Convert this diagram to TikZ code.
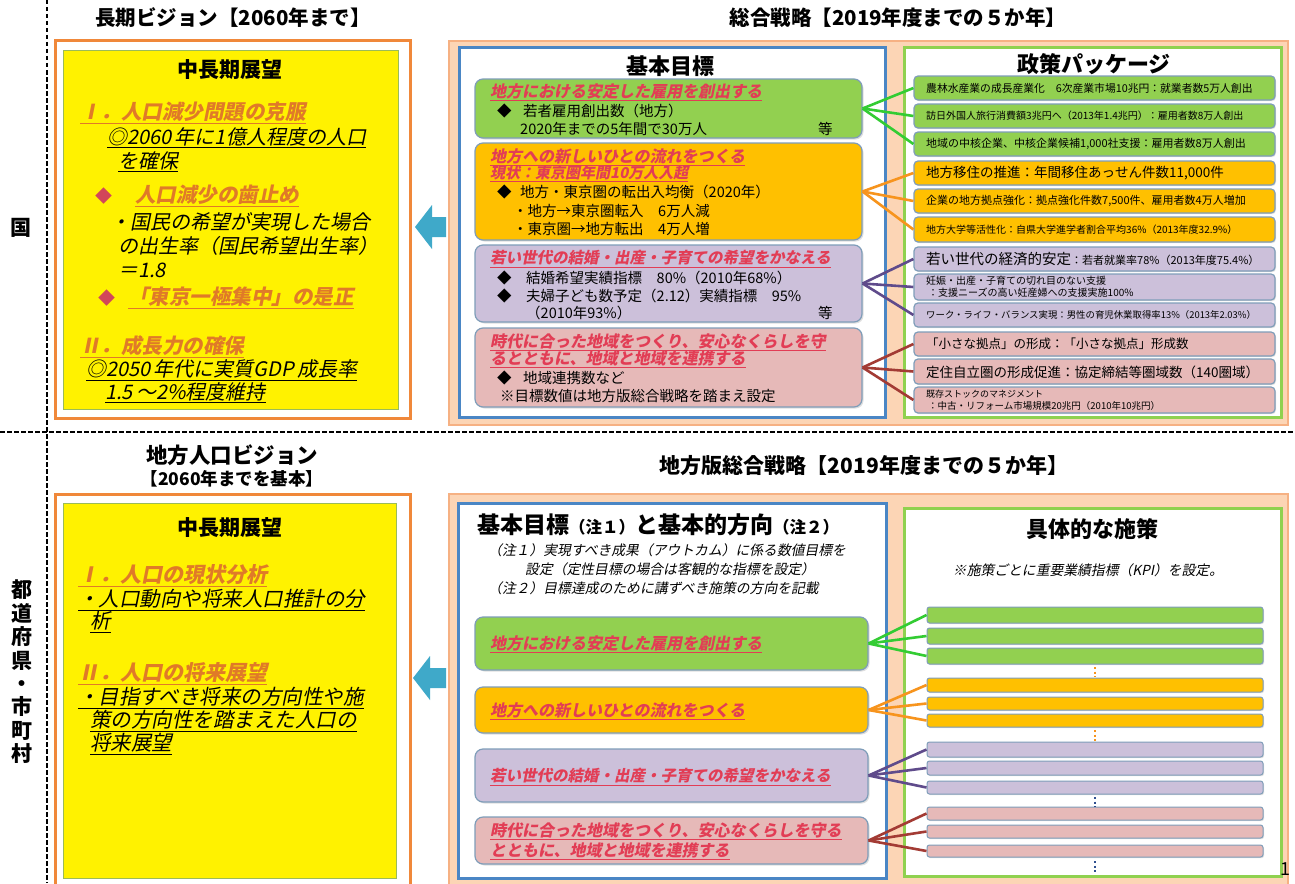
\documentclass[tikz,border=0pt]{standalone}
\usepackage{fontspec}
\setmainfont{Noto Sans CJK JP}
\newfontfamily\jpit{Noto Sans CJK JP}[FakeSlant=0.2]
\usetikzlibrary{fit,shadows}
\newcommand\setfs[1]{\fontsize{#1}{#1}\selectfont}
\definecolor{fillG}{HTML}{92D050}
\definecolor{fillO}{HTML}{FFC000}
\definecolor{fillP}{HTML}{CCC0DA}
\definecolor{fillR}{HTML}{E6B9B8}
\definecolor{lineG}{HTML}{33CC33}
\definecolor{lineO}{HTML}{F7941D}
\definecolor{lineP}{HTML}{5F4B8B}
\definecolor{lineR}{HTML}{A33B34}
\definecolor{boxEdge}{HTML}{7F9DB9}
\definecolor{peach}{HTML}{FCD5B5}
\definecolor{peachEdge}{HTML}{F6B183}
\definecolor{blueEdge}{HTML}{4A86C5}
\definecolor{greenEdge}{HTML}{8FD14F}
\definecolor{frameOrange}{HTML}{F0883A}
\definecolor{yelEdge}{HTML}{9BBB59}
\definecolor{arrowC}{HTML}{3FA9C9}
\definecolor{headRed}{HTML}{E23D55}
\definecolor{headOrange}{HTML}{E07A28}
\definecolor{diaRed}{HTML}{D2465A}
\definecolor{dotNavy}{HTML}{2F4F8F}
\tikzset{
  txt/.style={inner sep=0pt, anchor=west, text=black},
  ctr/.style={inner sep=0pt, anchor=center, text=black},
  ttl/.style={ctr, font=\bfseries\setfs{20.5}},
  headO/.style={txt, text=headOrange, font=\jpit\bfseries\setfs{20.5}},
  bodyI/.style={txt, font=\jpit\setfs{20}},
  bodyIb/.style={txt, font=\jpit\setfs{20.5}},
  headR/.style={txt, text=headRed, font=\jpit\bfseries\setfs{16}},
  gtxt/.style={txt, font=\setfs{14.5}},
  noteI/.style={txt, font=\jpit\setfs{13.8}},
  frameO/.style={draw=frameOrange, line width=3pt, fill=white, inner sep=0pt},
  yel/.style={fill=yellow, draw=yelEdge, line width=0.8pt, inner sep=0pt},
  peachbox/.style={fill=peach, draw=peachEdge, line width=2pt, inner sep=0pt},
  bluebox/.style={fill=white, draw=blueEdge, line width=3pt, inner sep=0pt},
  greenbox/.style={fill=white, draw=greenEdge, line width=3pt, inner sep=0pt},
  gbox/.style={draw=boxEdge, line width=1.2pt, rounded corners=8pt, inner sep=0pt,
    drop shadow={opacity=0.25, shadow xshift=1.5pt, shadow yshift=-1.5pt}},
  pbox/.style={draw=boxEdge, line width=1.2pt, rounded corners=4pt, inner sep=0pt,
    drop shadow={opacity=0.25, shadow xshift=1pt, shadow yshift=-1.2pt}},
  bar/.style={draw=boxEdge, line width=1pt, rounded corners=2.5pt, inner sep=0pt,
    drop shadow={opacity=0.25, shadow xshift=1pt, shadow yshift=-1.2pt}},
  conn/.style={line width=2.6pt},
  sep/.style={line width=1.8pt, dash pattern=on 4.5pt off 2.5pt},
  vdots/.style={line width=2pt, dash pattern=on 2pt off 2.5pt},
}
\begin{document}
\begin{tikzpicture}[x=1pt,y=-1pt]
\useasboundingbox (0,0) rectangle (1295,883);
\fill[white] (0,0) rectangle (1295,883);

% separators
\draw[sep] (47,0) -- (47,883);
\draw[sep] (0,432) -- (1295,432);
\node[ctr, font=\bfseries\setfs{21}] (kuni) at (21,228) {国};
\node[ctr, align=center, font=\bfseries\fontsize{21}{23.4}\selectfont] (pref) at (22,672) {都\\道\\府\\県\\・\\市\\町\\村};

% ================= TOP LEFT =================
\node[ttl] (tVis) at (233,18) {長期ビジョン【2060年まで】};
\node[frameO, fit={(55,41) (410,418)}] (lframe) {};
\node[yel, fit={(63,50) (398,409)}] (lyel) {};
\node[ctr, font=\bfseries\setfs{21}] (tChu1) at (230,70) {中長期展望};
\node[headO] (a1) at (80,113) {\underline{Ⅰ．人口減少問題の克服}};
\node[bodyI] (a2) at (107,138) {\underline{◎2060\,年に1億人程度の人口}};
\node[bodyI] (a3) at (118,162) {\underline{を確保}};
\node[txt, text=diaRed, font=\setfs{17}] (a4d) at (95,196) {◆};
\node[headO] (a4) at (135,196) {\underline{人口減少の歯止め}};
\node[bodyI] (a5) at (110,222) {・国民の希望が実現した場合};
\node[bodyI] (a6) at (118,246) {の出生率（国民希望出生率）};
\node[bodyI] (a7) at (118,270) {＝1.8};
\node[txt, text=diaRed, font=\setfs{17}] (a8d) at (98,298) {◆};
\node[headO] (a8) at (128,298) {\underline{「東京一極集中」の是正}};
\node[headO] (a9) at (80,347) {\underline{Ⅱ．成長力の確保}};
\node[bodyI] (a10) at (86,370) {\underline{◎2050\,年代に実質GDP\,成長率}};
\node[bodyI] (a11) at (105,393) {\underline{1.5\,～2\%程度維持}};

\fill[arrowC] (415,227) -- (432,205) -- (432,217) -- (446,217) -- (446,237) -- (432,237) -- (432,249) -- cycle;

% ================= TOP MIDDLE =================
\node[ttl] (tSogo) at (898,18) {総合戦略【2019年度までの５か年】};
\node[peachbox, fit={(449,41) (1288,425)}] (peachTop) {};
\node[bluebox, fit={(459,48) (885,417)}] (blueTop) {};
\node[ctr, font=\bfseries\setfs{22}] (tKihon) at (670,66) {基本目標};

\node[gbox, fill=fillG, fit={(475,79) (862,138)}] (tg) {};
\node[headR] (tg1) at (490,92) {\underline{地方における安定した雇用を創出する}};
\node[gtxt] (tg2d) at (497,111) {◆};
\node[gtxt] (tg2) at (523,111) {若者雇用創出数（地方）};
\node[gtxt] (tg3) at (520,129) {2020年までの5年間で30万人};
\node[gtxt] (tg4) at (818,129) {等};

\node[gbox, fill=fillO, fit={(475,143) (862,240)}] (to) {};
\node[headR] (to1) at (490,157) {\underline{地方への新しいひとの流れをつくる}};
\node[headR, font=\jpit\bfseries\setfs{15}] (to2) at (490,174) {\underline{現状：東京圏年間10万人入超}};
\node[gtxt] (to3d) at (497,192) {◆};
\node[gtxt] (to3) at (520,192) {地方・東京圏の転出入均衡（2020年）};
\node[gtxt] (to4) at (513,211) {・地方→東京圏転入　6万人減};
\node[gtxt] (to5) at (513,229) {・東京圏→地方転出　4万人増};

\node[gbox, fill=fillP, fit={(475,245) (862,322)}] (tp) {};
\node[headR, font=\jpit\bfseries\setfs{15.5}] (tp1) at (490,259) {\underline{若い世代の結婚・出産・子育ての希望をかなえる}};
\node[gtxt] (tp2d) at (497,278) {◆};
\node[gtxt] (tp2) at (526,278) {結婚希望実績指標　80\%（2010年68\%）};
\node[gtxt] (tp3d) at (497,296) {◆};
\node[gtxt] (tp3) at (526,296) {夫婦子ども数予定（2.12）実績指標　95\%};
\node[gtxt] (tp4) at (526,313) {（2010年93\%）};
\node[gtxt] (tp5) at (818,313) {等};

\node[gbox, fill=fillR, fit={(475,328) (862,407)}] (tr) {};
\node[headR] (tr1) at (490,342) {\underline{時代に合った地域をつくり、安心なくらしを守}};
\node[headR] (tr2) at (490,359) {\underline{るとともに、地域と地域を連携する}};
\node[gtxt] (tr3d) at (497,378) {◆};
\node[gtxt] (tr3) at (523,378) {地域連携数など};
\node[gtxt] (tr4) at (500,396) {※目標数値は地方版総合戦略を踏まえ設定};

% ================= TOP RIGHT =================
\node[greenbox, fit={(904,48) (1281,417)}] (greenTop) {};
\node[ctr, font=\bfseries\setfs{22}] (tSeisaku) at (1094,64) {政策パッケージ};

\node[pbox, fill=fillG, fit={(914,76) (1275,100)}] (pg1) {};
\node[pbox, fill=fillG, fit={(914,104) (1275,128)}] (pg2) {};
\node[pbox, fill=fillG, fit={(914,132) (1275,156)}] (pg3) {};
\node[pbox, fill=fillO, fit={(914,161) (1275,185)}] (po1) {};
\node[pbox, fill=fillO, fit={(914,189) (1275,213)}] (po2) {};
\node[pbox, fill=fillO, fit={(914,217) (1275,242)}] (po3) {};
\node[pbox, fill=fillP, fit={(914,247) (1275,271)}] (pp1) {};
\node[pbox, fill=fillP, fit={(914,274) (1275,300)}] (pp2) {};
\node[pbox, fill=fillP, fit={(914,303) (1275,327)}] (pp3) {};
\node[pbox, fill=fillR, fit={(914,332) (1275,356)}] (pr1) {};
\node[pbox, fill=fillR, fit={(914,359) (1275,384)}] (pr2) {};
\node[pbox, fill=fillR, fit={(914,387) (1275,413)}] (pr3) {};

\node[txt, font=\setfs{10.8}] (pg1t) at (926,88) {農林水産業の成長産業化　6次産業市場10兆円：就業者数5万人創出};
\node[txt, font=\setfs{10}] (pg2t) at (926,116) {訪日外国人旅行消費額3兆円へ（2013年1.4兆円）：雇用者数8万人創出};
\node[txt, font=\setfs{11}] (pg3t) at (926,144) {地域の中核企業、中核企業候補1,000社支援：雇用者数8万人創出};
\node[txt, font=\setfs{13.5}] (po1t) at (926,173) {地方移住の推進：年間移住あっせん件数11,000件};
\node[txt, font=\setfs{11}] (po2t) at (926,201) {企業の地方拠点強化：拠点強化件数7,500件、雇用者数4万人増加};
\node[txt, font=\setfs{10}] (po3t) at (926,230) {地方大学等活性化：自県大学進学者割合平均36\%（2013年度32.9\%）};
\node[txt, font=\setfs{14.5}] (pp1t) at (926,259) {若い世代の経済的安定{\setfs{11}：若者就業率78\%（2013年度75.4\%）}};
\node[txt, font=\setfs{10}] (pp2t) at (926,281) {妊娠・出産・子育ての切れ目のない支援};
\node[txt, font=\setfs{10}] (pp2u) at (928,293) {：支援ニーズの高い妊産婦への支援実施100\%};
\node[txt, font=\setfs{9.4}] (pp3t) at (926,315) {ワーク・ライフ・バランス実現：男性の育児休業取得率13\%（2013年2.03\%）};
\node[txt, font=\setfs{12.5}] (pr1t) at (926,344) {「小さな拠点」の形成：「小さな拠点」形成数};
\node[txt, font=\setfs{13.5}] (pr2t) at (926,372) {定住自立圏の形成促進：協定締結等圏域数（140圏域）};
\node[txt, font=\setfs{9}] (pr3t) at (926,394) {既存ストックのマネジメント};
\node[txt, font=\setfs{9.5}] (pr3u) at (928,406) {：中古・リフォーム市場規模20兆円（2010年10兆円）};

% connectors top
\foreach \p in {pg1,pg2,pg3} \draw[conn, lineG] (tg.east) -- (\p.west);
\foreach \p in {po1,po2,po3} \draw[conn, lineO] (to.east) -- (\p.west);
\foreach \p in {pp1,pp2,pp3} \draw[conn, lineP] (tp.east) -- (\p.west);
\foreach \p in {pr1,pr2,pr3} \draw[conn, lineR] (tr.east) -- (\p.west);

% ================= BOTTOM LEFT =================
\node[ctr, font=\bfseries\setfs{21.5}] (bVis1) at (232,455) {地方人口ビジョン};
\node[ctr, font=\bfseries\setfs{17.5}] (bVis2) at (232,479) {【2060年までを基本】};
\node[frameO, fit={(55,494) (410,890)}] (bframe) {};
\node[yel, fit={(63,503) (396,878)}] (byel) {};
\node[ctr, font=\bfseries\setfs{21}] (bChu) at (230,528) {中長期展望};
\node[headO, font=\jpit\bfseries\setfs{21}] (b1) at (78,576) {\underline{Ⅰ．人口の現状分析}};
\node[bodyIb] (b2) at (78,600) {\underline{・人口動向や将来人口推計の分}};
\node[bodyIb] (b3) at (90,622) {\underline{析}};
\node[headO, font=\jpit\bfseries\setfs{21}] (b4) at (78,674) {\underline{Ⅱ．人口の将来展望}};
\node[bodyIb] (b5) at (78,698) {\underline{・目指すべき将来の方向性や施}};
\node[bodyIb] (b6) at (90,721) {\underline{策の方向性を踏まえた人口の}};
\node[bodyIb] (b7) at (90,744) {\underline{将来展望}};

\fill[arrowC] (413,678) -- (430,656) -- (430,668) -- (446,668) -- (446,688) -- (430,688) -- (430,700) -- cycle;

% ================= BOTTOM MIDDLE =================
\node[ttl, font=\bfseries\setfs{21}] (bSogo) at (864,466) {地方版総合戦略【2019年度までの５か年】};
\node[peachbox, fit={(449,494) (1288,890)}] (peachBot) {};
\node[bluebox, fit={(458,503) (886,878)}] (blueBot) {};
\node[txt, font=\bfseries\setfs{23}] (bKihon) at (477,525) {基本目標{\setfs{16.5}（注１）}と基本的方向{\setfs{16.5}（注２）}};
\node[noteI] (n1) at (488,550) {（注１）実現すべき成果（アウトカム）に係る数値目標を};
\node[noteI] (n2) at (525,569) {設定（定性目標の場合は客観的な指標を設定）};
\node[noteI] (n3) at (488,588) {（注２）目標達成のために講ずべき施策の方向を記載};

\node[gbox, fill=fillG, fit={(475,617) (868,670)}] (bg) {};
\node[headR] (bgt) at (490,644) {\underline{地方における安定した雇用を創出する}};
\node[gbox, fill=fillO, fit={(475,687) (868,733)}] (bo) {};
\node[headR] (bot) at (490,711) {\underline{地方への新しいひとの流れをつくる}};
\node[gbox, fill=fillP, fit={(475,749) (868,802)}] (bp) {};
\node[headR, font=\jpit\bfseries\setfs{15.5}] (bpt) at (490,777) {\underline{若い世代の結婚・出産・子育ての希望をかなえる}};
\node[gbox, fill=fillR, fit={(475,817) (868,864)}] (br) {};
\node[headR] (brt1) at (490,831) {\underline{時代に合った地域をつくり、安心なくらしを守る}};
\node[headR] (brt2) at (490,851) {\underline{とともに、地域と地域を連携する}};

% ================= BOTTOM RIGHT =================
\node[greenbox, fit={(904,508) (1281,876)}] (greenBot) {};
\node[ctr, font=\bfseries\setfs{22}] (bGutai) at (1092,529) {具体的な施策};
\node[ctr, font=\jpit\setfs{13.8}] (bKPI) at (1088,570) {※施策ごとに重要業績指標（KPI）を設定。};

\node[bar, fill=fillG, fit={(927,607) (1263,623)}] (sg1) {};
\node[bar, fill=fillG, fit={(927,628) (1263,644)}] (sg2) {};
\node[bar, fill=fillG, fit={(927,648) (1263,664)}] (sg3) {};
\node[bar, fill=fillO, fit={(927,678) (1263,692)}] (so1) {};
\node[bar, fill=fillO, fit={(927,697) (1263,710)}] (so2) {};
\node[bar, fill=fillO, fit={(927,714) (1263,727)}] (so3) {};
\node[bar, fill=fillP, fit={(927,742) (1263,757)}] (sp1) {};
\node[bar, fill=fillP, fit={(927,761) (1263,775)}] (sp2) {};
\node[bar, fill=fillP, fit={(927,781) (1263,794)}] (sp3) {};
\node[bar, fill=fillR, fit={(927,807) (1263,820)}] (sr1) {};
\node[bar, fill=fillR, fit={(927,825) (1263,838)}] (sr2) {};
\node[bar, fill=fillR, fit={(927,845) (1263,857)}] (sr3) {};

\draw[vdots, lineO] (1095,667) -- (1095,677);
\draw[vdots, lineO] (1095,730) -- (1095,741);
\draw[vdots, dotNavy] (1095,797) -- (1095,807);
\draw[vdots, dotNavy] (1095,861) -- (1095,874);

\foreach \p in {sg1,sg2,sg3} \draw[conn, lineG] (bg.east) -- (\p.west);
\foreach \p in {so1,so2,so3} \draw[conn, lineO] (bo.east) -- (\p.west);
\foreach \p in {sp1,sp2,sp3} \draw[conn, lineP] (bp.east) -- (\p.west);
\foreach \p in {sr1,sr2,sr3} \draw[conn, lineR] (br.east) -- (\p.west);

\node[ctr, font=\setfs{18}] (pageno) at (1285,869) {1};
\end{tikzpicture}
\end{document}
